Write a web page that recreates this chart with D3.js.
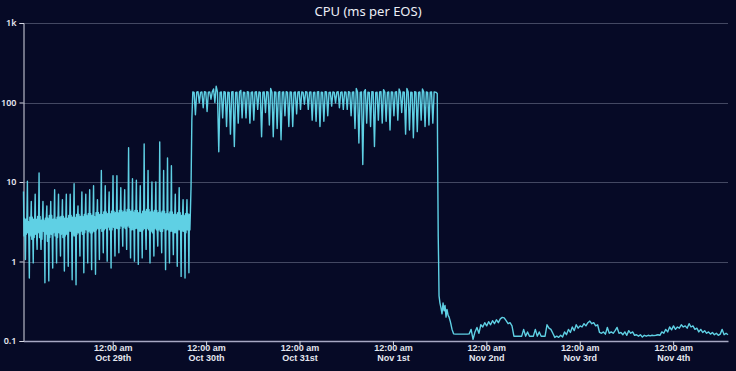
<!DOCTYPE html>
<html>
<head>
<meta charset="utf-8">
<script src="https://cdn.jsdelivr.net/npm/d3@7"></script>
<style>
  html, body { margin: 0; padding: 0; background: #060a26; }
  svg { display: block; font-family: "Noto Sans", "Open Sans", sans-serif; }
</style>
</head>
<body>
<svg width="736" height="371"></svg>
<script>
// series start (UTC); every series below is placed in hours from here
var startTime = Date.UTC(2019, 9, 28, 1, 5);

// Oct 28 - Oct 29: noisy ~2-4 ms band, 7.5 min samples
// each row: [spike up, band, band, band, spike down, band, band, band]
var phase1 = [
  [7.6, 2.1, 3.5, 2.0, 1.06, 3.4, 2.2, 3.6], [10.2, 2.3, 3.2, 1.9, 0.62, 3.6, 2.1, 3.3],
  [5.7, 1.9, 3.6, 2.2, 0.96, 3.4, 2.0, 3.5], [7, 2.2, 3.4, 2.0, 1.42, 3.7, 2.3, 3.4],
  [13, 2.0, 3.7, 2.1, 1.42, 3.3, 1.9, 3.6], [5.7, 2.4, 3.3, 2.0, 0.54, 3.5, 2.2, 3.7],
  [5, 1.8, 3.5, 2.1, 0.57, 3.8, 2.0, 3.4], [5.7, 2.2, 3.8, 1.9, 0.83, 3.4, 2.3, 3.6],
  [8, 2.1, 3.4, 2.2, 0.96, 3.6, 2.0, 3.8], [7, 2.3, 3.6, 2.0, 1.17, 3.7, 2.2, 3.5],
  [6, 2.0, 3.7, 2.3, 0.76, 3.5, 2.1, 3.7], [7, 2.2, 3.5, 2.1, 0.87, 3.8, 2.4, 3.6],
  [7, 2.4, 3.8, 2.2, 0.59, 3.6, 2.1, 3.9], [9.5, 2.1, 3.6, 2.3, 0.51, 3.9, 2.2, 3.7],
  [5, 2.3, 3.9, 2.2, 1.17, 3.7, 2.4, 3.8], [7.5, 2.2, 3.7, 2.4, 0.72, 3.9, 2.3, 4.0],
  [7, 2.5, 3.8, 2.3, 0.96, 4.0, 2.4, 3.8], [8, 2.3, 4.0, 2.5, 0.79, 3.8, 2.3, 4.1],
  [9, 2.4, 3.7, 2.2, 0.69, 4.1, 2.5, 3.9], [6, 2.6, 4.1, 2.4, 1.06, 3.9, 2.6, 4.2],
  [14, 2.4, 3.9, 2.6, 1.29, 4.2, 2.5, 4.0], [9, 2.6, 4.2, 2.4, 1.01, 4.0, 2.7, 4.3],
  [7.5, 2.5, 4.0, 2.7, 0.83, 4.3, 2.5, 4.1], [12, 2.7, 4.3, 2.5, 1.17, 4.1, 2.6, 4.4],
  [12, 2.6, 4.1, 2.8, 1.29, 4.4, 2.6, 4.2], [8.5, 2.8, 4.4, 2.6, 1.56, 4.2, 2.7, 4.5],
  [8, 2.6, 4.2, 2.7, 1.42, 4.5, 2.8, 4.3], [27, 2.7, 4.5, 2.6, 1.11, 4.3, 2.5, 4.4],
  [11, 2.5, 4.2, 2.7, 1.01, 4.4, 2.6, 4.2], [10.5, 2.6, 4.4, 2.5, 0.92, 4.1, 2.4, 4.3],
  [9, 2.4, 4.0, 2.6, 1.11, 4.3, 2.5, 4.1], [30, 2.6, 4.3, 2.4, 1.42, 4.5, 2.6, 4.2],
  [14, 2.5, 4.5, 2.6, 0.96, 4.2, 2.4, 4.4], [10, 2.3, 4.2, 2.5, 1.17, 4.4, 2.6, 4.1],
  [10, 2.5, 4.4, 2.3, 1.56, 4.1, 2.5, 4.3], [32, 2.4, 4.1, 2.6, 1.29, 4.3, 2.4, 4.0],
  [14, 2.6, 4.3, 2.4, 0.79, 4.0, 2.5, 4.2], [20, 2.5, 4.0, 2.3, 0.96, 4.2, 2.4, 3.9],
  [16, 2.4, 4.2, 2.5, 1.22, 3.9, 2.3, 4.1], [7, 2.3, 3.9, 2.4, 0.87, 4.1, 2.5, 3.8],
  [8.5, 2.5, 4.1, 2.3, 0.65, 3.8, 2.4, 4.0], [6, 2.4, 3.8, 2.5, 0.62, 4.0, 2.3, 3.9],
  [6, 2.5, 4.0, 2.4, 0.72, 3.9, 2.5, 4.1]
];

// jump up to the plateau: [hours, value]
var rise = [[43.05, 9], [43.25, 60]];

// Oct 29 evening - Nov 1 evening: plateau ~135 ms, 20 min samples [plateau, plateau, dip]
var phase2 = [
  [136, 134, 70], [135, 137, 99], [134, 136, 86], [137, 135, 77], [135, 136, 110], [136, 148, 100], [160, 135, 24], [134, 136, 64], [137, 135, 50], [135, 134, 40],
  [136, 137, 28], [134, 135, 55], [136, 142, 64], [135, 134, 64], [137, 135, 55], [134, 136, 60], [135, 137, 82], [136, 134, 37], [135, 136, 75], [137, 135, 52],
  [150, 134, 37], [136, 135, 47], [134, 137, 34], [135, 136, 68], [137, 134, 50], [136, 135, 50], [134, 136, 72], [135, 137, 82], [136, 134, 95], [137, 135, 82],
  [135, 136, 60], [134, 135, 58], [136, 137, 50], [135, 134, 58], [137, 136, 68], [134, 135, 90], [136, 134, 99], [135, 137, 86], [134, 136, 82], [136, 135, 82],
  [137, 134, 68], [135, 136, 47], [150, 135, 31], [134, 136, 16.6], [136, 145, 55], [135, 134, 50], [137, 136, 28], [134, 135, 60], [136, 137, 55], [145, 135, 58],
  [134, 136, 45], [136, 135, 68], [135, 137, 60], [148, 134, 75], [136, 135, 40], [150, 136, 45], [135, 134, 36], [137, 135, 43], [134, 136, 60], [148, 135, 50],
  [136, 134, 52], [135, 136, 55]
];

// fall off the plateau: [hours, value]
var drop = [
  [105.5, 136], [106.0, 134], [106.3, 130], [106.4, 21], [106.55, 2.1], [106.65, 1.0], [106.76, 0.37],
  [107.0, 0.3], [107.27, 0.26], [107.53, 0.22], [107.79, 0.3], [108.05, 0.24], [108.3, 0.28], [108.56, 0.2],
  [108.8, 0.25], [109.1, 0.21], [109.34, 0.2], [109.6, 0.18], [109.85, 0.16], [110.1, 0.14]
];

// Nov 1 night - Nov 4: ~0.12 ms, 30 min samples
var phase3 = [
  0.123, 0.122, 0.122, 0.122, 0.122, 0.122, 0.122, 0.122, 0.123,
  0.14, 0.105, 0.13, 0.148, 0.125, 0.16, 0.15, 0.17, 0.155, 0.175, 0.16, 0.18, 0.165, 0.185, 0.17,
  0.19, 0.198, 0.195, 0.18, 0.165, 0.17, 0.155, 0.115,
  0.115, 0.115, 0.115, 0.115, 0.14, 0.115, 0.13, 0.115, 0.115, 0.115, 0.14, 0.115, 0.13, 0.115, 0.115, 0.115,
  0.16, 0.145, 0.14, 0.125, 0.111, 0.115, 0.111, 0.118, 0.112, 0.13, 0.12, 0.14, 0.128, 0.15, 0.135,
  0.16, 0.145, 0.155, 0.15, 0.165, 0.155, 0.17, 0.178, 0.165, 0.17, 0.155, 0.16,
  0.128, 0.125, 0.13, 0.122, 0.148, 0.125, 0.13, 0.125, 0.135, 0.148, 0.125, 0.128, 0.12, 0.13, 0.118,
  0.135, 0.125, 0.13, 0.118, 0.12, 0.115, 0.12, 0.112, 0.118, 0.115, 0.118, 0.116, 0.118, 0.117, 0.118,
  0.12, 0.118,
  0.13, 0.125, 0.14, 0.13, 0.15, 0.138, 0.155, 0.14, 0.15, 0.145, 0.16, 0.15, 0.155, 0.145, 0.165,
  0.15, 0.155, 0.14, 0.145, 0.13, 0.14, 0.128, 0.135, 0.125, 0.13, 0.122, 0.128, 0.12, 0.125, 0.118,
  0.122, 0.14, 0.12, 0.125, 0.12
];

var yTicks = [0.1, 1, 10, 100, 1000];
var yLabels = ["0.1", "1", "10", "100", "1k"];
var days = [29, 30, 31, 32, 33, 34, 35].map(function (d) { return new Date(Date.UTC(2019, 9, d)); });

var svg = d3.select("svg"),
    width = +svg.attr("width"),
    height = +svg.attr("height");

function at(h) { return new Date(startTime + h * 3600e3); }

var points = [];
phase1.flat().forEach(function (v, i) { points.push({ t: at(i * 0.125), v: v }); });
rise.forEach(function (d) { points.push({ t: at(d[0]), v: d[1] }); });
phase2.flat().forEach(function (v, i) { points.push({ t: at(43.5 + i / 3), v: v }); });
drop.forEach(function (d) { points.push({ t: at(d[0]), v: d[1] }); });
phase3.forEach(function (v, i) { points.push({ t: at(110.5 + i * 0.5), v: v }); });

var x = d3.scaleUtc()
    .domain(d3.extent(points, function (d) { return d.t; }))
    .range([23.5, 728]);

var y = d3.scaleLog()
    .domain([0.1, 1000])
    .range([341, 23]);

svg.append("rect").attr("width", width).attr("height", height).attr("fill", "#060a26");

// gridlines
svg.append("g")
    .selectAll("line")
    .data(yTicks.slice(1))
    .enter().append("line")
    .attr("x1", 23.5).attr("x2", 728)
    .attr("y1", function (d) { return Math.round(y(d)) + 0.5; })
    .attr("y2", function (d) { return Math.round(y(d)) + 0.5; })
    .attr("stroke", "#434862")
    .attr("stroke-width", 1);

// title
svg.append("text")
    .attr("x", 368)
    .attr("y", 16)
    .attr("text-anchor", "middle")
    .attr("fill", "#eceef6")
    .attr("font-size", "13px")
    .text("CPU (ms per EOS)");

// y axis
var yAxis = svg.append("g")
    .attr("transform", "translate(23.5,0)")
    .call(d3.axisLeft(y)
        .tickValues(yTicks)
        .tickSize(4)
        .tickPadding(3)
        .tickFormat(function (d, i) { return yLabels[i]; }));
yAxis.select(".domain").attr("stroke", "#d6d8e4");
yAxis.selectAll(".tick line").attr("stroke", "#d6d8e4");
yAxis.selectAll(".tick text")
    .attr("fill", "#e4e6ee")
    .attr("font-size", "9px")
    .attr("font-weight", "600")
    .attr("font-family", "\"Noto Sans\", sans-serif");

// x axis
function suffix(n) {
    if (n % 10 === 1 && n !== 11) return n + "st";
    if (n % 10 === 2 && n !== 12) return n + "nd";
    if (n % 10 === 3 && n !== 13) return n + "rd";
    return n + "th";
}
var fmtMonth = d3.utcFormat("%b");

var xAxis = svg.append("g")
    .attr("transform", "translate(0,341)")
    .call(d3.axisBottom(x)
        .tickValues(days)
        .tickSize(4)
        .tickSizeOuter(0)
        .tickFormat(""));
xAxis.select(".domain").attr("stroke", "#a6a8c4").attr("stroke-width", 1.5);
xAxis.selectAll(".tick line").attr("stroke", "#d6d8e4");
var xt = xAxis.selectAll(".tick").append("text")
    .attr("fill", "#e4e6ee")
    .attr("font-size", "9px")
    .attr("font-weight", "600")
    .attr("text-anchor", "middle");
xt.append("tspan").attr("x", 0).attr("y", 10).text("12:00 am");
xt.append("tspan").attr("x", 0).attr("y", 20).text(function (d) {
    return fmtMonth(d) + " " + suffix(d.getUTCDate());
});

// the series
var line = d3.line()
    .x(function (d) { return x(d.t); })
    .y(function (d) { return y(d.v); });

svg.append("path")
    .datum(points)
    .attr("fill", "none")
    .attr("stroke", "#5fd0e4")
    .attr("stroke-width", 1.4)
    .attr("stroke-linejoin", "round")
    .attr("d", line);
</script>
</body>
</html>
